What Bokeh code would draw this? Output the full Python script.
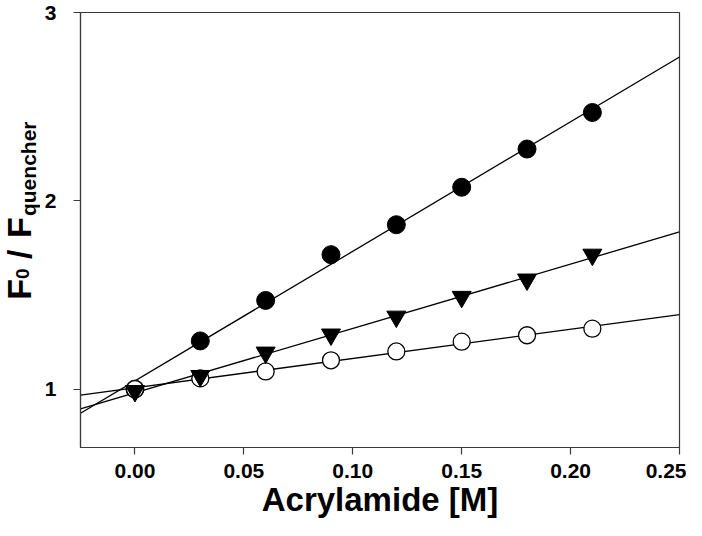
import numpy as np
from bokeh.plotting import figure
from bokeh.layouts import row
from bokeh.models import Range1d, FixedTicker, NumeralTickFormatter
from bokeh.core.properties import value
from bokeh.embed import file_html
from bokeh.resources import INLINE

# ---- data ----
acrylamide = [0.00, 0.03, 0.06, 0.09, 0.12, 0.15, 0.18, 0.21]
filled_circles = [1.00, 1.256, 1.471, 1.714, 1.873, 2.072, 2.275, 2.469]
triangles = [0.99, 1.07, 1.194, 1.29, 1.385, 1.49, 1.582, 1.714]
open_circles = [1.00, 1.057, 1.094, 1.153, 1.20, 1.252, 1.286, 1.321]

x_ticks = [0.00, 0.05, 0.10, 0.15, 0.20, 0.25]
y_ticks = [1, 2, 3]
x_lo, x_hi = -0.025, 0.25
y_lo, y_hi = 0.69, 3.0

x_title = "Acrylamide [M]"
y_title_parts = ["F", "0", "/", "F", "quencher"]

FONT = "Liberation Sans"
AX = "#3a3a3a"

LEFT_W, MAIN_W, H = 40, 646, 520
MB_TOP, MB_BOT = 12, 72

# ---- main plot ----
p = figure(width=MAIN_W, height=H, x_range=Range1d(x_lo, x_hi), y_range=Range1d(y_lo, y_hi),
           output_backend="svg", toolbar_location=None,
           min_border_left=40, min_border_right=7, min_border_top=MB_TOP, min_border_bottom=MB_BOT)
p.xgrid.visible = False
p.ygrid.visible = False
p.outline_line_color = AX
p.outline_line_width = 1.2

for ax in (p.xaxis[0], p.yaxis[0]):
    ax.axis_line_color = AX
    ax.axis_line_width = 1.2
    ax.major_tick_line_color = AX
    ax.major_tick_line_width = 1.2
    ax.major_tick_in = 0
    ax.major_tick_out = 7
    ax.minor_tick_line_color = None
    ax.major_label_text_font = FONT
    ax.major_label_text_font_style = "bold"
    ax.major_label_text_font_size = "21px"
    ax.major_label_text_color = "black"

p.xaxis[0].ticker = FixedTicker(ticks=x_ticks)
p.xaxis[0].formatter = NumeralTickFormatter(format="0.00")
p.xaxis[0].major_label_standoff = 9
p.xaxis[0].axis_label = x_title
p.xaxis[0].axis_label_text_font = FONT
p.xaxis[0].axis_label_text_font_style = "bold"
p.xaxis[0].axis_label_text_font_size = "33px"
p.xaxis[0].axis_label_text_color = "black"
p.xaxis[0].axis_label_standoff = 0
p.yaxis[0].ticker = FixedTicker(ticks=y_ticks)
p.yaxis[0].major_label_standoff = 17

# regression lines through each series
line_x = np.array([x_lo, x_hi])
for ys in (filled_circles, triangles, open_circles):
    k, b = np.polyfit(acrylamide, ys, 1)
    p.line(line_x, k * line_x + b, line_color="black", line_width=1.3)

p.scatter(acrylamide, filled_circles, marker="circle", size=18,
          fill_color="black", line_color="black", line_width=1)
p.scatter(acrylamide, open_circles, marker="circle", size=17,
          fill_color="white", line_color="black", line_width=1.3)
p.scatter(acrylamide, triangles, marker="inverted_triangle", size=19,
          fill_color="black", line_color="black", line_width=1)

# ---- y title (rotated, with subscripts), in a narrow strip left of the plot ----
yl = figure(width=LEFT_W, height=H, x_range=Range1d(0, LEFT_W),
            y_range=Range1d(MB_BOT, H - MB_TOP),
            output_backend="svg", toolbar_location=None,
            x_axis_location=None, y_axis_location=None,
            min_border_left=0, min_border_right=0, min_border_top=MB_TOP, min_border_bottom=MB_BOT)
yl.xgrid.visible = False
yl.ygrid.visible = False
yl.outline_line_color = None

y_sizes = ["34px", "19px", "34px", "34px", "21px"]
y_mid_x = [18, 22, 18, 18, 28]
y_start_row = [300, 279, 259, 238, 216]
for t, fs, mx, r in zip(y_title_parts, y_sizes, y_mid_x, y_start_row):
    yl.text(x=[mx], y=[H - r], text=[t], angle=np.pi / 2, text_align="left",
            text_baseline="middle", text_font=value(FONT), text_font_style="bold",
            text_font_size=value(fs), text_color="black")

layout = row(yl, p)
open("out.html", "w").write(file_html(layout, INLINE))
